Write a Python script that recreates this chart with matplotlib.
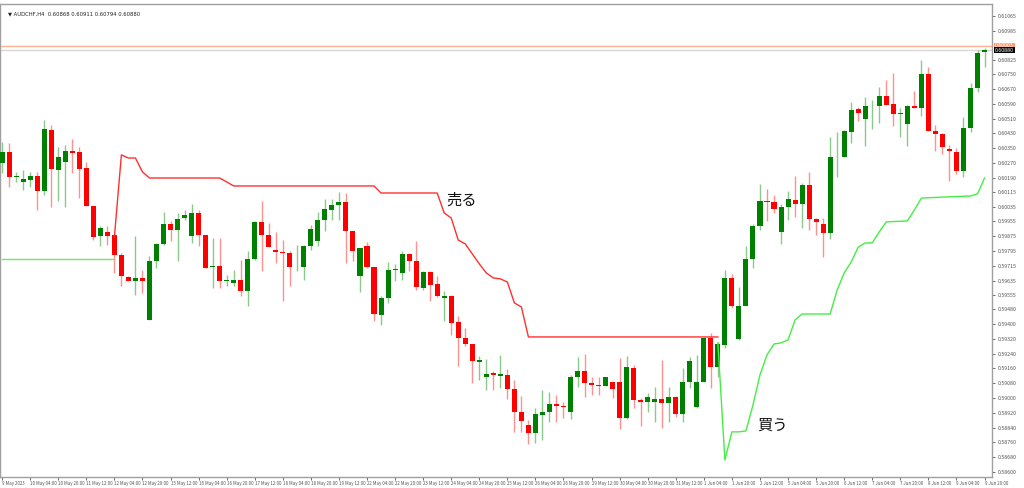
import matplotlib
matplotlib.use("Agg")
import matplotlib.pyplot as plt
import pandas as pd
import numpy as np

plt.rcParams['font.family'] = ['Noto Sans CJK JP', 'DejaVu Sans']

# AUDCHF H4 candles, 9 May 2023 12:00 .. 9 Jun 2023 20:00 (price in 1e-5 units)
opens = [60269, 60332, 60197, 60166, 60179, 60202, 60121, 60449, 60233, 60278,
         60337, 60328, 60242, 60040, 59873, 59896, 59882, 59774, 59653, 59635,
         59646, 59419, 59738, 59833, 59941, 59909, 59972, 59878, 59999, 59882,
         59706, 59715, 59634, 59621, 59639, 59576, 59751, 59949, 59882, 59801,
         59787, 59783, 59702, 59706, 59819, 59846, 59963, 60017, 60044, 60057,
         59904, 59657, 59819, 59707, 59450, 59540, 59693, 59675, 59778, 59743,
         59594, 59679, 59616, 59540, 59553, 59409, 59324, 59293, 59194, 59113,
         59133, 59121, 59122, 59048, 58927, 58855, 58810, 58909, 58927, 58967,
         58958, 58922, 59112, 59147, 59080, 59071, 59067, 59085, 59089, 58891,
         59163, 58990, 58976, 58976, 58995, 58972, 59003, 58913, 59084, 58950,
         59089, 59323, 59166, 59288, 59648, 59319, 59499, 59751, 59931, 60067,
         60062, 59896, 60035, 60071, 60049, 60152, 59968, 59941, 59891, 60301,
         60305, 60440, 60561, 60507, 60577, 60580, 60633, 60588, 60535, 60481,
         60579, 60566, 60751, 60444, 60427, 60346, 60332, 60229, 60458, 60674,
         60868]
closes = [60332, 60197, 60199, 60184, 60202, 60121, 60453, 60237, 60305, 60337,
          60323, 60237, 60040, 59868, 59918, 59878, 59774, 59657, 59635, 59648,
          59635, 59738, 59833, 59941, 59909, 59967, 59990, 59999, 59882, 59702,
          59715, 59635, 59635, 59639, 59576, 59751, 59949, 59882, 59814, 59787,
          59783, 59706, 59704, 59819, 59913, 59963, 60022, 60044, 60057, 59900,
          59792, 59810, 59707, 59454, 59540, 59693, 59697, 59778, 59743, 59598,
          59679, 59612, 59553, 59551, 59405, 59324, 59293, 59198, 59203, 59130,
          59122, 59130, 59050, 58927, 58878, 58810, 58913, 58927, 58967, 58958,
          58950, 59112, 59147, 59080, 59071, 59067, 59112, 59048, 58891, 59166,
          58990, 58976, 59004, 58995, 58972, 59004, 58914, 59084, 59202, 59089,
          59323, 59166, 59292, 59648, 59495, 59499, 59751, 59931, 60067, 60062,
          60022, 60031, 60075, 60049, 60152, 59968, 59949, 59891, 60301, 60305,
          60444, 60557, 60543, 60579, 60579, 60633, 60584, 60534, 60539, 60579,
          60566, 60751, 60444, 60427, 60354, 60336, 60229, 60458, 60674, 60863,
          60880]
highs = [60386, 60377, 60224, 60233, 60224, 60224, 60503, 60476, 60359, 60368,
         60399, 60355, 60278, 60040, 59927, 59931, 59891, 59783, 59657, 59873,
         59693, 59765, 59837, 60008, 59954, 59999, 60017, 60048, 60017, 59882,
         59864, 59864, 59666, 59693, 59747, 59792, 59954, 60067, 59945, 59895,
         59855, 59796, 59828, 59828, 59936, 60003, 60076, 60075, 60116, 60107,
         59904, 59810, 59841, 59707, 59549, 59733, 59725, 59796, 59783, 59846,
         59684, 59684, 59661, 59576, 59558, 59441, 59378, 59293, 59225, 59212,
         59144, 59234, 59157, 59098, 59012, 58882, 58945, 59044, 59035, 59017,
         58981, 59125, 59224, 59238, 59112, 59112, 59116, 59089, 59215, 59228,
         59179, 58999, 59026, 59057, 59206, 59058, 59012, 59161, 59220, 59233,
         59332, 59354, 59305, 59693, 59671, 59598, 59823, 59940, 60157, 60129,
         60098, 60049, 60120, 60202, 60161, 60224, 59972, 59972, 60409, 60440,
         60449, 60602, 60575, 60629, 60611, 60683, 60719, 60755, 60566, 60584,
         60660, 60827, 60787, 60476, 60431, 60368, 60350, 60521, 60705, 60881,
         60890]
lows = [60215, 60143, 60170, 60125, 60143, 60017, 60098, 60035, 60067, 60031,
        60215, 60080, 60040, 59855, 59819, 59828, 59675, 59603, 59630, 59558,
        59567, 59419, 59702, 59828, 59846, 59738, 59963, 59837, 59819, 59702,
        59594, 59594, 59603, 59603, 59549, 59495, 59747, 59684, 59814, 59729,
        59522, 59607, 59684, 59639, 59801, 59819, 59900, 59963, 59963, 59729,
        59738, 59571, 59702, 59414, 59392, 59513, 59630, 59639, 59684, 59585,
        59585, 59522, 59545, 59414, 59342, 59171, 59279, 59081, 59095, 59045,
        59045, 59054, 58995, 58819, 58819, 58752, 58756, 58774, 58873, 58873,
        58891, 58886, 59058, 59004, 59017, 59017, 59066, 58999, 58832, 58886,
        58945, 58850, 58927, 58868, 58837, 58873, 58900, 58873, 59053, 58945,
        59089, 59053, 59112, 59270, 59486, 59315, 59495, 59702, 59909, 59959,
        59999, 59833, 59963, 59981, 59918, 59909, 59882, 59761, 59859, 60192,
        60305, 60377, 60499, 60363, 60454, 60489, 60584, 60471, 60413, 60364,
        60566, 60525, 60444, 60336, 60319, 60175, 60211, 60197, 60435, 60656,
        60787]

# trailing stop lines (bar index, price)
green1_bars = [0, 16]
green1_vals = [59752, 59752]
red_bars = [16, 17, 18, 19, 20, 21, 31, 32, 33, 53, 54, 62, 63, 64, 65, 66, 67,
            68, 69, 70, 71, 72, 73, 74, 75, 102]
red_vals = [59870, 60314, 60297, 60297, 60222, 60189, 60189, 60168, 60146, 60146,
            60108, 60108, 60000, 59973, 59854, 59833, 59779, 59725, 59676, 59649,
            59644, 59627, 59514, 59492, 59330, 59330]
green2_bars = [102, 103, 104, 105, 106, 107, 108, 109, 110, 111, 112, 113, 114,
               118, 119, 120, 121, 122, 123, 124, 125, 126, 129, 130, 131, 138,
               139, 140]
green2_vals = [59298, 58665, 58817, 58817, 58822, 58962, 59125, 59233, 59292,
               59298, 59314, 59422, 59454, 59454, 59584, 59676, 59735, 59816,
               59838, 59838, 59898, 59952, 59957, 60016, 60081, 60092, 60103,
               60189]

y_ticks = [0.61065, 0.60985, 0.60825, 0.60750, 0.60670, 0.60590, 0.60510,
           0.60430, 0.60350, 0.60270, 0.60190, 0.60115, 0.60035, 0.59955,
           0.59875, 0.59795, 0.59715, 0.59635, 0.59555, 0.59480, 0.59400,
           0.59320, 0.59240, 0.59160, 0.59080, 0.59000, 0.58920, 0.58840,
           0.58760, 0.58680, 0.58600]
bid_price = 0.60880
ask_line = 0.60903

sc = 1e-5
o = np.array(opens) * sc
c = np.array(closes) * sc
h = np.array(highs) * sc
l = np.array(lows) * sc
n = len(o)
x = np.arange(n)

times = pd.date_range('2023-05-09 12:00', '2023-06-12', freq='4h')
times = times[times.weekday < 5][:n]

fig = plt.figure(figsize=(10.24, 4.88), dpi=100)
ax = fig.add_axes([0.0, 0.0225, 0.969, 0.9695])

up = c >= o
col = np.where(up, '#008000', '#ff0000')
wick = np.where(up, '#8cc88c', '#ff9090')
ax.vlines(x, l, h, colors=wick, linewidth=1, zorder=2)
body_h = np.abs(c - o)
body_h = np.maximum(body_h, 0.000025)
ax.bar(x, body_h, bottom=np.minimum(o, c), width=0.72, color=col, zorder=3, linewidth=0)

ax.plot(green1_bars, np.array(green1_vals) * sc, color='#66ee66', lw=1, zorder=4)
ax.plot(red_bars, np.array(red_vals) * sc, color='#ff3030', lw=1, zorder=4)
ax.plot(green2_bars, np.array(green2_vals) * sc, color='#44ee44', lw=1, zorder=4)

ax.axhline(ask_line, color='#ffb090', lw=1, zorder=1)
ax.axhline(bid_price, color='#d8d8d8', lw=1, zorder=1)

ax.text(63.3, 0.60070, '売る', fontsize=11, ha='left', va='center', color='#111111')
ax.text(107.6, 0.58854, '買う', fontsize=11, ha='left', va='center', color='#111111')

ax.set_xlim(-0.3, 141.1)
ax.set_ylim(0.58573, 0.61130)

ax.yaxis.tick_right()
ax.set_yticks(y_ticks)
ax.set_yticklabels(['%.5f' % v for v in y_ticks], fontsize=3.8, color='#333333')
ax.tick_params(axis='y', length=2, width=0.6, pad=2, colors='#555555')

tick_pos = list(range(0, n, 4))
labels = []
for i in tick_pos:
    t = times[i]
    if i == 0:
        labels.append('%d %s %d' % (t.day, t.strftime('%b'), t.year))
    else:
        labels.append('%d %s %s' % (t.day, t.strftime('%b'), t.strftime('%H:%M')))
ax.set_xticks(tick_pos)
ax.set_xticklabels(labels, fontsize=3.2, color='#333333', ha='left')
ax.tick_params(axis='x', length=2, width=0.6, pad=1, colors='#555555')

for s in ax.spines.values():
    s.set_color('#a0a0a0')
    s.set_linewidth(1)

# price boxes on the right axis
ax.text(1.003, ask_line, '0.60903', transform=ax.get_yaxis_transform(), fontsize=3.8,
        va='center', ha='left', color='white',
        bbox=dict(boxstyle='square,pad=0.15', fc='#ff9a70', ec='none'))
ax.text(1.003, bid_price, '0.60880', transform=ax.get_yaxis_transform(), fontsize=3.8,
        va='center', ha='left', color='white',
        bbox=dict(boxstyle='square,pad=0.15', fc='black', ec='none'))

ax.text(0.008, 0.985, '\u25bc AUDCHF,H4  0.60868 0.60911 0.60794 0.60880', transform=ax.transAxes,
        fontsize=3.8, va='top', ha='left', color='#222222', family=['DejaVu Sans'])

fig.savefig('out.png', dpi=100)
